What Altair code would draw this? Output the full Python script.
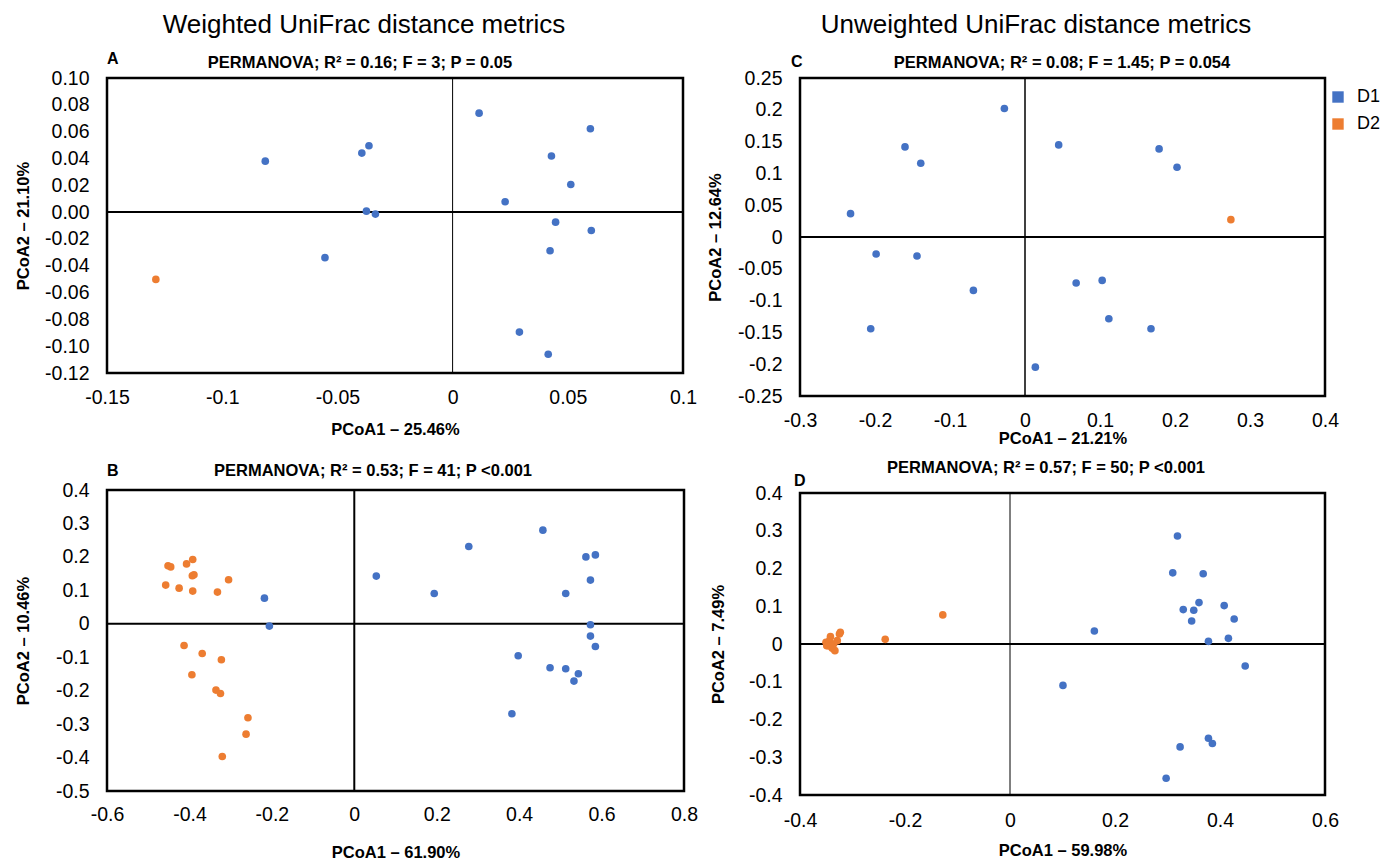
import altair as alt
import pandas as pd

BLUE = "#4472C4"
ORANGE = "#ED7D31"
FONT = "Liberation Sans, Arial, Helvetica, sans-serif"
groups = ["D1", "D2"]

# Panel A - Weighted UniFrac (PCoA1 25.46%, PCoA2 21.10%)
a_x = [0.0115, 0.0598, -0.0363, -0.0394, -0.0813, 0.0429, 0.0513, 0.0228, -0.0374,
       -0.0335, 0.0447, 0.0602, 0.0423, -0.0554, -0.1288, 0.0290, 0.0415]
a_y = [0.0738, 0.0622, 0.0495, 0.0440, 0.0380, 0.0418, 0.0206, 0.0077, 0.0007,
       -0.0015, -0.0075, -0.0137, -0.0288, -0.0340, -0.0502, -0.0895, -0.1060]
a_g = ["D1"] * 14 + ["D2"] + ["D1"] * 2

# Panel C - Unweighted UniFrac (PCoA1 21.21%, PCoA2 12.64%)
c_x = [-0.0275, -0.160, -0.139, 0.0449, 0.1788, 0.2027, -0.2326, 0.2745, -0.1985,
       -0.144, -0.0688, 0.0682, 0.1029, 0.1118, -0.2057, 0.168, 0.0138]
c_y = [0.202, 0.1417, 0.116, 0.1448, 0.1385, 0.1097, 0.0367, 0.0273, -0.0268,
       -0.0299, -0.084, -0.0724, -0.0682, -0.1285, -0.1443, -0.1443, -0.2046]
c_g = ["D1"] * 7 + ["D2"] + ["D1"] * 9

# Panel B - Weighted UniFrac (PCoA1 61.90%, PCoA2 10.46%)
b_x_d1 = [0.4576, 0.2778, 0.562, 0.585, 0.0534, 0.573, 0.194, 0.513, -0.218, -0.206,
          0.573, 0.573, 0.585, 0.3977, 0.475, 0.513, 0.5437, 0.533, 0.3824]
b_y_d1 = [0.280, 0.231, 0.200, 0.206, 0.1425, 0.1306, 0.0907, 0.0907, 0.0767, -0.007,
          -0.003, -0.0369, -0.0678, -0.0957, -0.1316, -0.1346, -0.1495, -0.1714, -0.269]
b_x_d2 = [-0.4519, -0.4454, -0.407, -0.392, -0.393, -0.389, -0.4576, -0.425, -0.392, -0.332,
          -0.305, -0.413, -0.369, -0.3225, -0.394, -0.3356, -0.3247, -0.258, -0.2626, -0.3203]
b_y_d2 = [0.1734, 0.170, 0.179, 0.192, 0.1435, 0.1465, 0.1156, 0.1066, 0.0977, 0.0947,
          0.1316, -0.0648, -0.0887, -0.1076, -0.1525, -0.1983, -0.2083, -0.281, -0.330, -0.3967]

# Panel D - Unweighted UniFrac (PCoA1 59.98%, PCoA2 7.49%)
d_x_d1 = [0.319, 0.310, 0.368, 0.360, 0.408, 0.330, 0.350, 0.346, 0.427, 0.1607,
          0.378, 0.416, 0.448, 0.1009, 0.378, 0.3855, 0.324, 0.2974]
d_y_d1 = [0.286, 0.1885, 0.186, 0.1097, 0.1018, 0.0912, 0.0894, 0.061, 0.0664, 0.0345,
          0.007, 0.015, -0.0584, -0.1097, -0.2496, -0.2637, -0.2726, -0.3558]
d_x_d2 = [-0.3505, -0.3463, -0.342, -0.3386, -0.3335, -0.329, -0.3249, -0.3232, -0.3437,
          -0.336, -0.349, -0.340, -0.2377, -0.128]
d_y_d2 = [0.0044, -0.0044, 0.0195, -0.0115, -0.0177, 0.0089, 0.0266, 0.031, 0.0089,
          0.0, -0.0044, -0.007, 0.0124, 0.077]

# Axis tick values
a_xticks = [-0.15, -0.1, -0.05, 0, 0.05, 0.1]
a_yticks = [-0.12, -0.10, -0.08, -0.06, -0.04, -0.02, 0, 0.02, 0.04, 0.06, 0.08, 0.10]
c_xticks = [-0.3, -0.2, -0.1, 0, 0.1, 0.2, 0.3, 0.4]
c_yticks = [-0.25, -0.2, -0.15, -0.1, -0.05, 0, 0.05, 0.1, 0.15, 0.2, 0.25]
b_xticks = [-0.6, -0.4, -0.2, 0, 0.2, 0.4, 0.6, 0.8]
b_yticks = [-0.5, -0.4, -0.3, -0.2, -0.1, 0, 0.1, 0.2, 0.3, 0.4]
d_xticks = [-0.4, -0.2, 0, 0.2, 0.4, 0.6]
d_yticks = [-0.4, -0.3, -0.2, -0.1, 0, 0.1, 0.2, 0.3, 0.4]

ONE = pd.DataFrame({"k": [0]})

TICK_FS = 19.5
TITLE_FS = 16.5
STAT_FS = 16.5


def lab_expr(fmt=None):
    if fmt:
        return "replace(format(datum.value, '" + fmt + "'), '\u2212', '-')"
    return "'' + datum.value"


def txt(text, px, py, size, weight="bold", align="left"):
    return alt.Chart(ONE).mark_text(
        text=text, font=FONT, fontSize=size, fontWeight=weight, align=align,
        baseline="middle", color="#000"
    ).encode(x=alt.value(px), y=alt.value(py))


def panel(df, xdom, ydom, xvals, yvals, w, h, xtitle, ytitle, xlabpad, xtitle_y,
          ylabpad, ytitle_x, letter, letter_xy, stat, stat_xy, hw, vw,
          yfmt=None, head=None, head_xy=None):
    xaxis = alt.Axis(values=xvals, labelExpr=lab_expr(), title=xtitle, grid=False,
                     ticks=False, tickSize=0, domain=False, labelFlush=False,
                     labelOverlap=False, labelPadding=xlabpad, labelFontSize=TICK_FS,
                     labelFont=FONT, labelColor="#000", titleFont=FONT,
                     titleFontSize=TITLE_FS, titleFontWeight="bold", titleColor="#000",
                     titleY=xtitle_y, titleBaseline="middle")
    yaxis = alt.Axis(values=yvals, labelExpr=lab_expr(yfmt), title=ytitle, grid=False,
                     ticks=False, tickSize=0, domain=False, labelFlush=False,
                     labelOverlap=False, labelPadding=ylabpad, labelFontSize=TICK_FS,
                     labelFont=FONT, labelColor="#000", titleFont=FONT,
                     titleFontSize=TITLE_FS, titleFontWeight="bold", titleColor="#000",
                     titleX=ytitle_x, titleBaseline="middle")
    leg = alt.Legend(title=None, orient="none", legendX=1222, legendY=10,
                     symbolType="square", symbolSize=130, symbolStrokeWidth=0,
                     labelFont=FONT, labelFontSize=18, labelColor="#000",
                     rowPadding=9, labelOffset=10)
    xscale = alt.Scale(domain=xdom, nice=False, zero=False)
    yscale = alt.Scale(domain=ydom, nice=False, zero=False)
    points = alt.Chart(df).mark_circle(size=58, opacity=1).encode(
        x=alt.X("x:Q", scale=xscale, axis=xaxis),
        y=alt.Y("y:Q", scale=yscale, axis=yaxis),
        color=alt.Color("g:N", scale=alt.Scale(domain=groups, range=[BLUE, ORANGE]),
                        legend=leg),
    )
    hline = alt.Chart(ONE).mark_rule(color="#000", strokeWidth=hw).encode(
        y=alt.YDatum(0, scale=yscale, axis=yaxis))
    vline = alt.Chart(ONE).mark_rule(color="#000", strokeWidth=vw).encode(
        x=alt.XDatum(0, scale=xscale, axis=xaxis))
    layers = [hline, vline, points,
              txt(letter, letter_xy[0], letter_xy[1], 16),
              txt(stat, stat_xy[0], stat_xy[1], STAT_FS, align="center")]
    if head:
        layers.append(txt(head, head_xy[0], head_xy[1], 26, weight="normal", align="center"))
    return alt.layer(*layers).properties(
        width=w, height=h,
        view=alt.ViewBackground(stroke="#000", strokeWidth=2.5, fill="white"))


dfA = pd.DataFrame({"x": a_x, "y": a_y, "g": a_g})
dfC = pd.DataFrame({"x": c_x, "y": c_y, "g": c_g})
dfB = pd.DataFrame({"x": b_x_d1 + b_x_d2, "y": b_y_d1 + b_y_d2,
                    "g": ["D1"] * len(b_x_d1) + ["D2"] * len(b_x_d2)})
dfD = pd.DataFrame({"x": d_x_d1 + d_x_d2, "y": d_y_d1 + d_y_d2,
                    "g": ["D1"] * len(d_x_d1) + ["D2"] * len(d_x_d2)})

pA = panel(dfA, [-0.15, 0.1], [-0.12, 0.10], a_xticks, a_yticks, 576, 295,
           "PCoA1 \u2013 25.46%", "PCoA2 \u2013 21.10%", 15, 56, 18, -84,
           "A", (0, -19), "PERMANOVA; R\u00b2 = 0.16; F = 3; P = 0.05", (253, -15), 2, 1,
           yfmt=".2f", head="Weighted UniFrac distance metrics", head_xy=(257, -53))
pB = panel(dfB, [-0.6, 0.8], [-0.5, 0.4], b_xticks, b_yticks, 577, 301,
           "PCoA1 \u2013 61.90%", "PCoA2 \u2013 10.46%", 14, 61, 18, -84,
           "B", (0, -19), "PERMANOVA; R\u00b2 = 0.53; F = 41; P <0.001", (266, -19), 2, 2)
pC = panel(dfC, [-0.3, 0.4], [-0.25, 0.25], c_xticks, c_yticks, 525, 318,
           "PCoA1 \u2013 21.21%", "PCoA2 \u2013 12.64%", 15, 42, 18, -85,
           "C", (-9, -16), "PERMANOVA; R\u00b2 = 0.08; F = 1.45; P = 0.054", (262, -15), 2, 1.5,
           head="Unweighted UniFrac distance metrics", head_xy=(236, -53))
pD = panel(dfD, [-0.4, 0.6], [-0.4, 0.4], d_xticks, d_yticks, 525, 302,
           "PCoA1 \u2013 59.98%", "PCoA2 \u2013 7.49%", 16, 55, 18, -82,
           "D", (-6, -12), "PERMANOVA; R\u00b2 = 0.57; F = 50; P <0.001", (246, -25), 2, 1)

left = alt.vconcat(pA, pB, spacing=22)
right = alt.vconcat(pC, pD, spacing=10)
chart = alt.hconcat(left, right, spacing=6).properties(
    padding={"left": 5, "top": 2, "right": 0, "bottom": 0}
).configure_view(stroke="#000", strokeWidth=2.5).configure(background="white")

chart.save("out.html", embed_options={"renderer": "svg", "actions": False})
